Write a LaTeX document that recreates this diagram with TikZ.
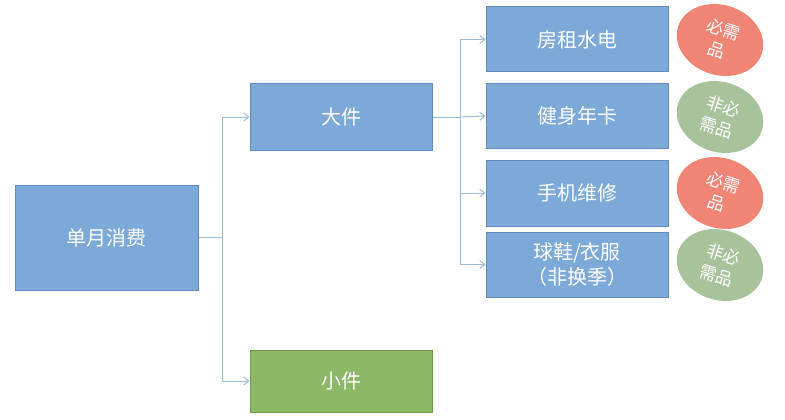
\documentclass[tikz,border=0pt]{standalone}
\usepackage{fontspec}
\setmainfont{Noto Sans CJK SC}
\usetikzlibrary{arrows.meta,shapes.geometric}
\definecolor{bfill}{HTML}{7DA9D8}
\definecolor{bdraw}{HTML}{5E8CBF}
\definecolor{gfill}{HTML}{8DB867}
\definecolor{gdraw}{HTML}{6F9A4C}
\definecolor{efr}{HTML}{F08576}
\definecolor{efg}{HTML}{A8C39B}
\definecolor{ln}{HTML}{9CBCDD}
\tikzset{
 box/.style={draw=bdraw,fill=bfill,line width=1pt,minimum width=182pt,text=white,font=\fontsize{20}{25}\selectfont,align=center,inner sep=0pt},
 oval/.style={ellipse,minimum width=88pt,minimum height=70pt,text=white,font=\fontsize{17}{22}\selectfont,align=center,inner sep=0pt,rotate=-18},
 conn/.style={draw=ln,line width=1pt,-{Straight Barb[length=5pt,width=8pt]}}
}
\begin{document}
\begin{tikzpicture}[x=1pt,y=-1pt]
\useasboundingbox (0,0) rectangle (785,420);
\node[box,minimum height=105pt,minimum width=183pt] (m) at (106.5,237.5) {单月消费};
\node[box,minimum height=66pt] (d) at (341,117) {大件};
\node[box,minimum height=62pt,draw=gdraw,fill=gfill] (x) at (341,381) {小件};
\node[box,minimum height=65pt] (r1) at (577,39.5) {房租水电};
\node[box,minimum height=64pt] (r2) at (577,116) {健身年卡};
\node[box,minimum height=66pt] (r3) at (577,193) {手机维修};
\node[box,minimum height=65pt] (r4) at (577,264.5) {球鞋/衣服\\（非换季）};
\node[oval,fill=efr] (e1) at (720,40) {必需\\品};
\node[oval,fill=efg] (e2) at (720,117) {非必\\需品};
\node[oval,fill=efr] (e3) at (720,193) {必需\\品};
\node[oval,fill=efg] (e4) at (720,265) {非必\\需品};
\coordinate (j1) at (222,237.5);
\coordinate (j2) at (460,117);
\draw[draw=ln,line width=1pt] (m.east) -- (j1);
\draw[conn] (j1) |- (d.west);
\draw[conn] (j1) |- (x.west);
\draw[draw=ln,line width=1pt] (d.east) -- (j2);
\draw[conn] (j2) |- (r1.west);
\draw[conn] (j2) -- (r2.west);
\draw[conn] (j2) |- (r3.west);
\draw[conn] (j2) |- (r4.west);
\end{tikzpicture}
\end{document}
